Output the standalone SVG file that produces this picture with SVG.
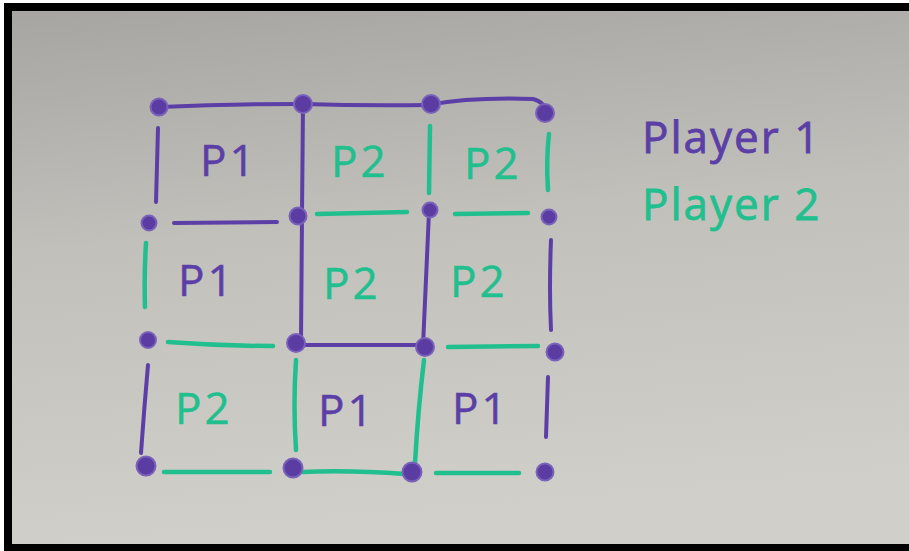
<svg xmlns="http://www.w3.org/2000/svg" width="909" height="551" viewBox="0 0 909 551">
<defs>
<linearGradient id="bg" x1="0" y1="0" x2="0.15" y2="1">
<stop offset="0" stop-color="#a7a5a1"/>
<stop offset="0.45" stop-color="#c2c0bb"/>
<stop offset="1" stop-color="#d0cfca"/>
</linearGradient>
<style>
.p{stroke:#5b3ea6;stroke-width:4;fill:none;stroke-linecap:round}
.g{stroke:#22bf8e;stroke-width:4.5;fill:none;stroke-linecap:round}
.dot{fill:#5a3ca3;stroke:#7a62bb;stroke-width:2}
.t{font-family:"Open Sans","DejaVu Sans",sans-serif;font-size:44px;letter-spacing:3px;stroke-width:0.5}
.tp{fill:#5b3ea6;stroke:#5b3ea6}
.tg{fill:#22bf8e;stroke:#22bf8e}
.leg{font-family:"Open Sans","DejaVu Sans",sans-serif;font-size:44px;letter-spacing:2px;stroke-width:0.8}
</style>
</defs>
<rect x="0" y="0" width="909" height="551" fill="#ffffff"/>
<rect x="4" y="3" width="905" height="548" fill="#000"/>
<rect x="12" y="11" width="897" height="533" fill="url(#bg)"/>

<g id="connectors">
<path class="p" d="M160 107 Q230 104 303 104"/>
<path class="p" d="M303 104 Q365 106 430 105"/>
<path class="p" d="M430 105 Q470 97 533 99 Q545 102 545 112"/>
<path class="p" d="M174 223 L277 222"/>
<path class="g" d="M317 214 L407 212"/>
<path class="g" d="M455 214 L528 213"/>
<path class="g" d="M168 342 Q220 346 273 346"/>
<path class="p" d="M300 345 L422 345"/>
<path class="g" d="M448 347 L538 346"/>
<path class="g" d="M164 472 L270 472"/>
<path class="g" d="M302 472 Q350 470 405 474"/>
<path class="g" d="M436 473 L519 473"/>
<path class="p" d="M158 128 Q157 165 156 202"/>
<path class="p" d="M303 105 L302 213"/>
<path class="g" d="M430 126 L429 193"/>
<path class="g" d="M549 134 Q546 160 548 190"/>
<path class="g" d="M146 243 Q144 275 145 307"/>
<path class="p" d="M302 217 L301 340"/>
<path class="p" d="M429 212 Q426 280 423 346"/>
<path class="p" d="M551 240 Q549 290 551 330"/>
<path class="p" d="M148 365 Q144 410 141 453"/>
<path class="g" d="M296 360 Q293 405 296 450"/>
<path class="g" d="M424 360 Q418 410 415 463"/>
<path class="p" d="M548 377 L546 437"/>
</g>

<g id="dots">
<circle class="dot" cx="159" cy="107" r="8.5"/>
<circle class="dot" cx="303" cy="104" r="9"/>
<circle class="dot" cx="431" cy="104" r="9"/>
<circle class="dot" cx="545" cy="113" r="9"/>
<circle class="dot" cx="149" cy="223" r="7.5"/>
<circle class="dot" cx="298" cy="216" r="8.5"/>
<circle class="dot" cx="430" cy="210" r="7.5"/>
<circle class="dot" cx="549" cy="217" r="7.5"/>
<circle class="dot" cx="148" cy="340" r="8"/>
<circle class="dot" cx="296" cy="343" r="9"/>
<circle class="dot" cx="425" cy="347" r="9"/>
<circle class="dot" cx="555" cy="352" r="8.5"/>
<circle class="dot" cx="146" cy="466" r="9.5"/>
<circle class="dot" cx="293" cy="468" r="9.5"/>
<circle class="dot" cx="412" cy="472" r="9.5"/>
<circle class="dot" cx="545" cy="472" r="8.5"/>
</g>

<g id="cell-r0c0"><text class="t tp" x="200" y="176">P1</text></g>
<g id="cell-r0c1"><text class="t tg" x="331" y="177">P2</text></g>
<g id="cell-r0c2"><text class="t tg" x="464" y="179">P2</text></g>
<g id="cell-r1c0"><text class="t tp" x="178" y="296">P1</text></g>
<g id="cell-r1c1"><text class="t tg" x="323" y="299">P2</text></g>
<g id="cell-r1c2"><text class="t tg" x="450" y="297">P2</text></g>
<g id="cell-r2c0"><text class="t tg" x="175" y="424">P2</text></g>
<g id="cell-r2c1"><text class="t tp" x="318" y="426">P1</text></g>
<g id="cell-r2c2"><text class="t tp" x="452" y="424">P1</text></g>

<g id="legend-player1"><text class="leg tp" x="642" y="153">Player 1</text></g>
<g id="legend-player2"><text class="leg tg" x="642" y="220">Player 2</text></g>
</svg>
